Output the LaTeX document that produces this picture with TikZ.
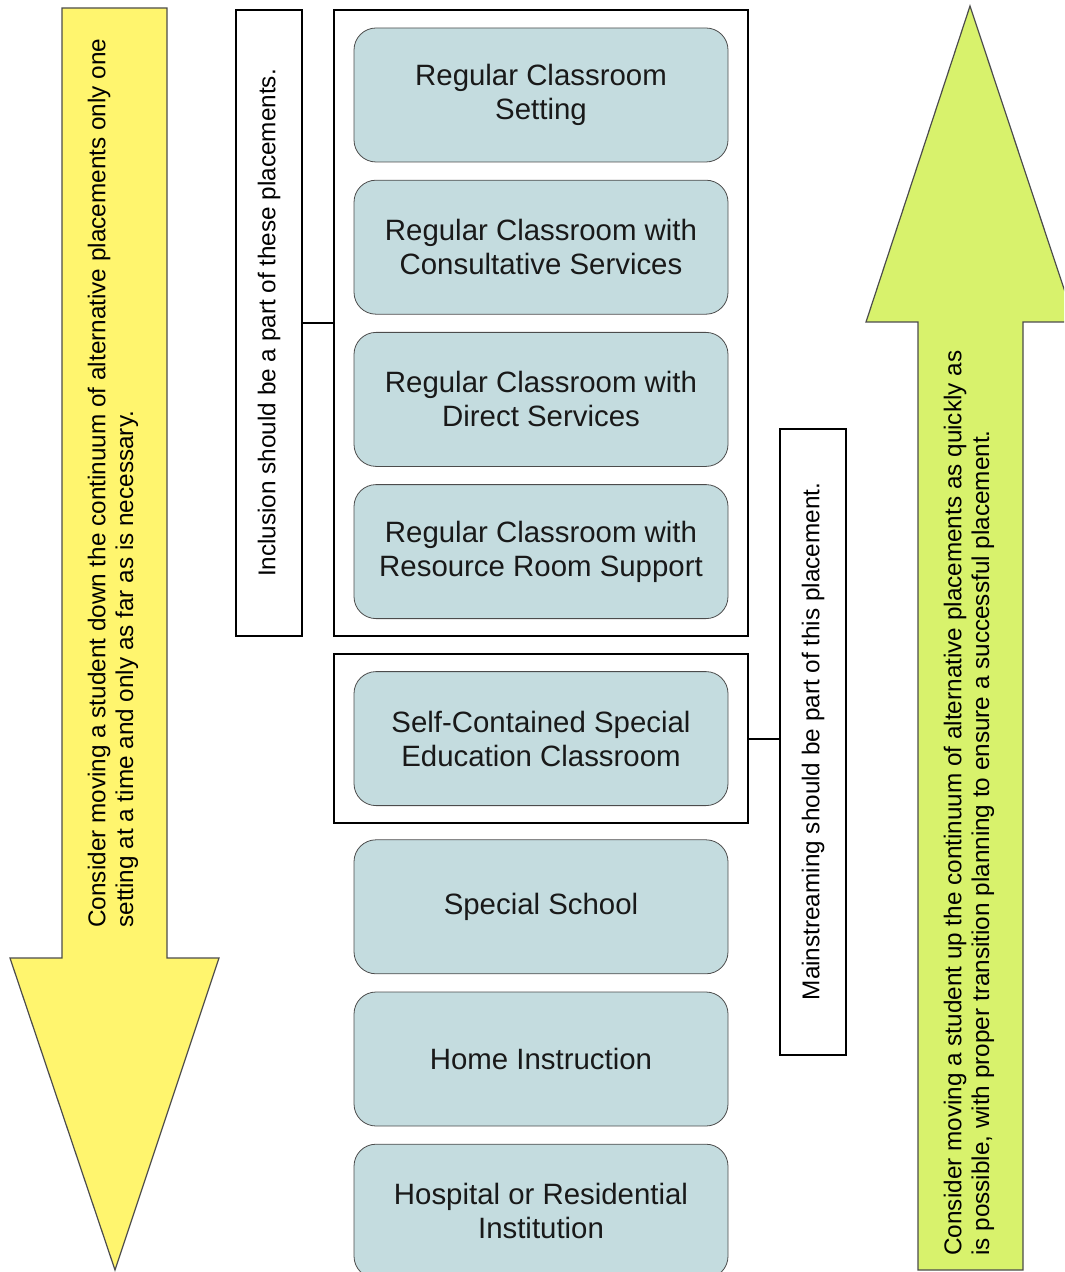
\documentclass[tikz,border=0pt]{standalone}
\usepackage{fontspec}
\setmainfont{Liberation Sans}
\usetikzlibrary{calc,positioning,fit}

\definecolor{downyellow}{HTML}{FFF56E}
\definecolor{upgreen}{HTML}{D8F26C}
\definecolor{boxblue}{HTML}{C4DCDF}

\begin{document}
\begin{tikzpicture}[x=0.5pt, y=-0.5pt,
  every node/.style={font=\fontsize{12.15}{13.9}\selectfont},
  placement/.style={draw=black!70, fill=boxblue, rounded corners=11pt,
    minimum width=187pt, minimum height=67pt, align=center, inner sep=2pt,
    font=\fontsize{14.7}{17}\selectfont, text=black!90},
  sidenote/.style={draw=black, line width=1pt, rotate=90,
    minimum width=313pt, minimum height=33pt, inner sep=0pt},
  groupframe/.style={draw=black, line width=1pt, inner xsep=10pt, inner ysep=8.6pt},
  bigarrow/.style={draw=black!70, line width=0.6pt}]

\useasboundingbox (0,0) rectangle (1064,1272);
\clip (0,0) rectangle (1064,1272);

% ---------- DOWN ARROW ----------
\draw[bigarrow, fill=downyellow] (62,8) -- (167,8) -- (167,958) -- (219,958)
  -- (115,1270) -- (10,958) -- (62,958) -- cycle;
\node[rotate=90, anchor=west, align=left, inner sep=0pt] (downtext) at (113,928)
  {Consider moving a student down the continuum of alternative placements only one\\
   setting at a time and only as far as is necessary.};

% ---------- UP ARROW ----------
\draw[bigarrow, fill=upgreen] (918,1270) -- (918,322) -- (866,322) -- (970,6)
  -- (1075,322) -- (1023,322) -- (1023,1270) -- cycle;
\node[rotate=90, anchor=west, align=left, inner sep=0pt] (uptext) at (969,1256)
  {Consider moving a student up the continuum of alternative placements as quickly as\\
   is possible, with proper transition planning to ensure a successful placement.};

% ---------- PLACEMENTS ----------
\node[placement] (p1) at (541,95) {Regular Classroom\\Setting};
\node[placement, below=8.7pt of p1] (p2) {Regular Classroom with\\Consultative Services};
\node[placement, below=8.7pt of p2] (p3) {Regular Classroom with\\Direct Services};
\node[placement, below=8.7pt of p3] (p4) {Regular Classroom with\\Resource Room Support};
\node[placement, below=26.1pt of p4] (p5) {Self-Contained Special\\Education Classroom};
\node[placement, below=16.7pt of p5] (p6) {Special School};
\node[placement, below=8.7pt of p6] (p7) {Home Instruction};
\node[placement, below=8.7pt of p7] (p8) {Hospital or Residential\\Institution};

% ---------- GROUPS ----------
\node[groupframe, fit=(p1)(p4)] (inclframe) {};
\node[groupframe, fit=(p5)] (mainframe) {};

\node[sidenote] (incl) at (269,323) {Inclusion should be a part of these placements.};
\node[sidenote] (mains) at (813,741.5) {Mainstreaming should be part of this placement.};

\draw[line width=1pt] (incl.south) -- (incl.south -| inclframe.west);
\draw[line width=1pt] (mainframe.east) -- (mainframe.east -| mains.north);

\end{tikzpicture}
\end{document}
